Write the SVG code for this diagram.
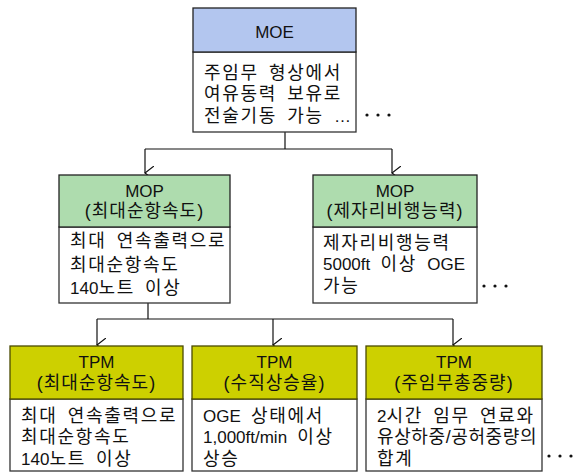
<svg xmlns="http://www.w3.org/2000/svg" width="582" height="475" viewBox="0 0 582 475">
<defs>
<marker id="arr" markerWidth="14" markerHeight="10" refX="7" refY="9" orient="auto-start-reverse" markerUnits="userSpaceOnUse" viewBox="0 0 14 10">
<path d="M0,0 L7,9 L14,0" fill="none" stroke="#111" stroke-width="1.2"/>
</marker>
</defs>
<style>
.t{font-family:"Liberation Sans","Noto Sans CJK KR",sans-serif;font-size:18px;fill:#111;letter-spacing:1.7px;word-spacing:3.5px}
.l{font-size:17px;letter-spacing:0}
.h{text-anchor:middle;letter-spacing:1px}
.hl{font-size:17px;letter-spacing:0}
.body{fill:#fff;stroke:#333;stroke-width:1.3}
.moe{fill:#b3c6ef;stroke:#222;stroke-width:1.3}
.mop{fill:#aedcae;stroke:#222;stroke-width:1.3}
.tpm{fill:#cdd000;stroke:#4a4a00;stroke-width:1.3}
.c{fill:none;stroke:#111;stroke-width:1.2}
.dot{fill:#111}
</style>
<rect width="582" height="475" fill="#fff"/>
<g id="connectors">
<path class="c" d="M285,132 V149 M145,149 H392"/>
<path class="c" d="M145,149 V173" marker-end="url(#arr)"/>
<path class="c" d="M392,149 V173" marker-end="url(#arr)"/>
<path class="c" d="M148,303 V319 M97,319 H453"/>
<path class="c" d="M97,319 V345" marker-end="url(#arr)"/>
<path class="c" d="M273,319 V345" marker-end="url(#arr)"/>
<path class="c" d="M453,319 V345" marker-end="url(#arr)"/>
</g>
<g id="moe">
<rect class="body" x="193" y="52" width="163" height="80"/>
<rect class="moe" x="193" y="8" width="163" height="44"/>
<text class="t h hl" x="274.5" y="38">MOE</text>
<text class="t" x="204" y="79">주임무 형상에서</text>
<text class="t" x="204" y="100">여유동력 보유로</text>
<text class="t" x="204" y="122">전술기동 가능 <tspan class="l">…</tspan></text>
<circle class="dot" cx="367" cy="115" r="1.6"/><circle class="dot" cx="378" cy="115" r="1.6"/><circle class="dot" cx="389" cy="115" r="1.6"/>
</g>
<g id="mop1">
<rect class="body" x="59" y="227" width="171" height="76"/>
<rect class="mop" x="59" y="175" width="171" height="52"/>
<text class="t h hl" x="144.5" y="197">MOP</text>
<text class="t h" x="144.5" y="217">(최대순항속도)</text>
<text class="t" x="70" y="247">최대 연속출력으로</text>
<text class="t" x="70" y="271">최대순항속도</text>
<text class="t" x="70" y="294"><tspan class="l">140</tspan>노트 이상</text>
</g>
<g id="mop2">
<rect class="body" x="313" y="227" width="164" height="76"/>
<rect class="mop" x="313" y="175" width="164" height="52"/>
<text class="t h hl" x="395" y="197">MOP</text>
<text class="t h" x="395" y="217">(제자리비행능력)</text>
<text class="t" x="323" y="249">제자리비행능력</text>
<text class="t" x="323" y="270"><tspan class="l">5000ft</tspan> 이상 <tspan class="l">OGE</tspan></text>
<text class="t" x="323" y="292">가능</text>
<circle class="dot" cx="484" cy="286" r="1.6"/><circle class="dot" cx="495" cy="286" r="1.6"/><circle class="dot" cx="506" cy="286" r="1.6"/>
</g>
<g id="tpm1">
<rect class="body" x="10" y="399" width="173" height="72"/>
<rect class="tpm" x="10" y="346" width="173" height="53"/>
<text class="t h hl" x="96.5" y="368">TPM</text>
<text class="t h" x="96.5" y="389">(최대순항속도)</text>
<text class="t" x="21" y="422">최대 연속출력으로</text>
<text class="t" x="21" y="443">최대순항속도</text>
<text class="t" x="21" y="465"><tspan class="l">140</tspan>노트 이상</text>
</g>
<g id="tpm2">
<rect class="body" x="192" y="399" width="165" height="72"/>
<rect class="tpm" x="192" y="346" width="165" height="53"/>
<text class="t h hl" x="274.5" y="368">TPM</text>
<text class="t h" x="274.5" y="389">(수직상승율)</text>
<text class="t" x="203" y="422"><tspan class="l">OGE</tspan> 상태에서</text>
<text class="t" x="203" y="443"><tspan class="l">1,000ft/min</tspan> 이상</text>
<text class="t" x="203" y="465">상승</text>
</g>
<g id="tpm3">
<rect class="body" x="366" y="399" width="176" height="72"/>
<rect class="tpm" x="366" y="346" width="176" height="53"/>
<text class="t h hl" x="454" y="368">TPM</text>
<text class="t h" x="454" y="389">(주임무총중량)</text>
<text class="t" x="377" y="422"><tspan class="l">2</tspan>시간 임무 연료와</text>
<text class="t" x="377" y="443" style="letter-spacing:0.6px">유상하중/공허중량의</text>
<text class="t" x="377" y="465">합계</text>
<circle class="dot" cx="549" cy="456" r="1.6"/><circle class="dot" cx="560" cy="456" r="1.6"/><circle class="dot" cx="571" cy="456" r="1.6"/>
</g>
</svg>
